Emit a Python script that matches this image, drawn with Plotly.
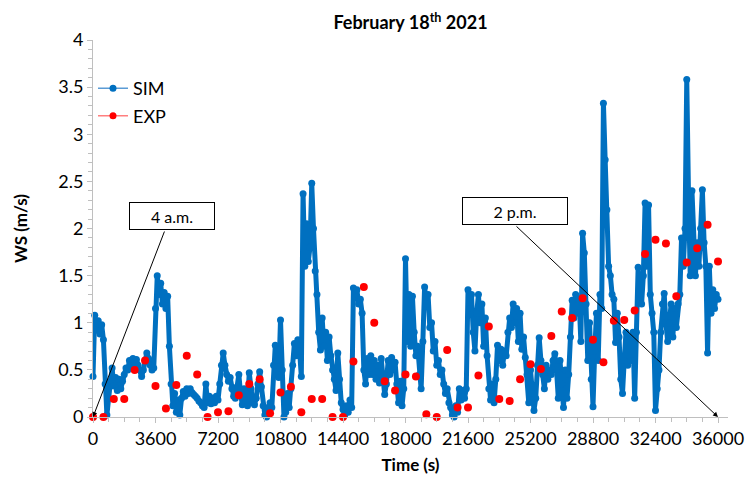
import plotly.graph_objects as go

# ---------------- data ----------------
sim_time = list(range(0, 36001, 100))
sim_ws = [
    0.43, 1.08, 0.92, 1.02, 0.88, 0.98, 0.82, 0.35, 0.02, 0.20,
    0.38, 0.52, 0.33, 0.42, 0.28, 0.40, 0.30, 0.38, 0.45, 0.52,
    0.50, 0.60, 0.55, 0.62, 0.57, 0.61, 0.55, 0.50, 0.43, 0.50,
    0.60, 0.68, 0.62, 0.55, 0.50, 0.52, 1.15, 1.50, 1.30, 1.42,
    1.20, 1.32, 1.15, 1.28, 0.75, 0.35, 0.12, 0.25, 0.05, 0.18,
    0.02, 0.20, 0.27, 0.22, 0.30, 0.25, 0.30, 0.26, 0.24, 0.22,
    0.20, 0.17, 0.15, 0.12, 0.10, 0.35, 0.15, 0.22, 0.14, 0.20,
    0.15, 0.22, 0.18, 0.35, 0.55, 0.68, 0.55, 0.45, 0.38, 0.42,
    0.30, 0.22, 0.20, 0.32, 0.45, 0.25, 0.13, 0.30, 0.18, 0.12,
    0.47, 0.30, 0.15, 0.13, 0.20, 0.35, 0.48, 0.32, 0.12, 0.02,
    0.00, 0.10, 0.15, 0.10, 0.55, 0.76, 0.60, 0.42, 1.03, 0.50,
    0.00, 0.05, 0.25, 0.10, 0.30, 0.55, 0.78, 0.65, 0.82, 0.70,
    0.43, 2.37, 1.60, 2.05, 1.65, 1.80, 2.48, 2.00, 1.55, 1.30,
    0.90, 0.71, 1.05, 0.75, 0.90, 0.60, 0.85, 0.65, 0.50, 0.40,
    0.28, 0.68, 0.40, 0.15, 0.08, 0.02, 0.12, 0.05, 0.18, 0.10,
    1.37, 1.30, 1.35, 1.20, 1.25, 1.10, 0.50, 0.35, 0.62, 0.45,
    0.65, 0.45, 0.60, 0.40, 0.55, 0.36, 0.62, 0.40, 0.24, 0.35,
    0.60, 0.45, 0.63, 0.50, 0.58, 0.35, 0.15, 0.38, 0.12, 0.30,
    1.68, 0.80, 1.30, 0.75, 1.28, 0.90, 0.65, 0.75, 0.45, 0.30,
    0.80, 1.38, 1.20, 1.30, 0.95, 1.00, 0.70, 0.80, 0.55, 0.60,
    0.45, 0.50, 0.35, 0.25, 0.30, 0.15, 0.10, 0.02, 0.00, 0.12,
    0.05, 0.30, 0.18, 0.28, 0.20, 0.30, 1.35, 1.15, 1.30, 0.90,
    0.70, 1.10, 1.30, 1.00, 1.20, 0.75, 1.05, 0.65, 0.30, 0.18,
    0.35, 0.15, 0.40, 0.76, 0.60, 0.72, 0.55, 0.70, 0.65, 0.90,
    1.05, 0.95, 1.20, 1.00, 1.15, 0.80, 1.10, 0.72, 0.85, 0.63,
    0.45, 0.15, 0.50, 0.25, 0.07, 0.20, 0.55, 0.84, 0.60, 0.45,
    0.30, 0.55, 0.40, 0.50, 0.45, 0.60, 0.67, 0.50, 0.20, 0.60,
    0.35, 0.10, 0.50, 0.20, 0.45, 0.85, 1.24, 1.05, 1.30, 1.10,
    1.25, 0.80, 1.95, 1.74, 1.20, 0.60, 1.00, 0.40, 0.11, 0.70,
    1.10, 0.60, 1.30, 1.15, 3.33, 2.73, 2.20, 1.60, 1.50, 1.30,
    1.25, 0.79, 1.10, 0.85, 0.40, 0.25, 0.60, 0.90, 0.55, 0.85,
    0.60, 0.90, 0.20, 0.90, 1.59, 1.30, 1.20, 1.50, 2.27, 1.60,
    2.25, 1.30, 1.10, 0.90, 0.07, 0.30, 0.50, 0.90, 1.20, 1.31,
    1.00, 0.80, 1.00, 1.20, 0.85, 1.15, 0.95, 1.20, 1.30, 1.90,
    1.60, 2.00, 3.58, 2.37, 1.50, 2.40, 1.85, 1.50, 1.85, 1.60,
    2.00, 2.41, 1.85, 1.60, 0.68, 1.60, 1.10, 1.35, 1.15, 1.30,
    1.25,
]

# EXP measured every 600 s
exp_time = list(range(0, 36001, 600))
exp_ws = [
    0.00, 0.00, 0.19, 0.19, 0.50, 0.60, 0.33, 0.09, 0.34, 0.65,
    0.45, 0.00, 0.05, 0.06, 0.23, 0.35, 0.40, 0.04, 0.26, 0.32,
    0.05, 0.19, 0.19, 0.00, 0.00, 0.59, 1.38, 1.00, 0.38, 0.28,
    0.45, 0.43, 0.03, 0.00, 0.71, 0.10, 0.10, 0.44, 0.96, 0.19,
    0.17, 0.40, 0.56, 0.51, 0.86, 1.12, 1.05, 1.26, 0.82, 0.58,
    1.02, 1.03, 1.13, 1.73, 1.88, 1.84, 1.28, 1.64, 1.79, 2.04,
    1.65,
]

x_ticks = [0, 3600, 7200, 10800, 14400, 18000, 21600, 25200, 28800, 32400, 36000]
y_ticks = [0, 0.5, 1, 1.5, 2, 2.5, 3, 3.5, 4]

# callout labels and the (time, WS) points they point at
callout_text = ["4 a.m.", "2 p.m."]
callout_time = [0, 36000]
callout_ws = [0, 0]

FONT = "Lato"
AXIS_GREY = "#BFBFBF"
SIM_BLUE = "#0070C0"

fig = go.Figure()
# dense simulated record: thick stroke stands in for the overlapping markers
fig.add_trace(go.Scatter(
    x=sim_time, y=sim_ws, mode="lines+markers", name="SIM",
    line=dict(color=SIM_BLUE, width=5),
    marker=dict(color=SIM_BLUE, size=7),
    cliponaxis=False, showlegend=False, legendgroup="sim",
))
# legend entries (thin line + dot as in the reference legend)
fig.add_trace(go.Scatter(
    x=[None], y=[None], mode="lines+markers", name="SIM",
    line=dict(color="#5B9BD5", width=1.5),
    marker=dict(color=SIM_BLUE, size=7), legendgroup="sim",
))
fig.add_trace(go.Scatter(
    x=exp_time, y=exp_ws, mode="markers", name="EXP",
    marker=dict(color="#FF0000", size=8),
    cliponaxis=False, showlegend=False, legendgroup="exp",
))
fig.add_trace(go.Scatter(
    x=[None], y=[None], mode="lines+markers", name="EXP",
    line=dict(color="#FF7F7F", width=1.5),
    marker=dict(color="#FF0000", size=7), legendgroup="exp",
))

fig.update_layout(
    width=746, height=484,
    margin=dict(l=93, r=18, t=40, b=67),
    paper_bgcolor="white", plot_bgcolor="white",
    font=dict(family=FONT, size=18, color="#000000"),
    title=dict(text="<b>February 18<sup>th</sup> 2021</b>", x=0.5, xref="paper",
               xanchor="center", y=1 - 23 / 484, yref="container", yanchor="middle",
               font=dict(family=FONT, size=18, color="#000000")),
    showlegend=True,
    legend=dict(x=0.0, y=0.92, xanchor="left", yanchor="top",
                tracegroupgap=1,
                bgcolor="rgba(0,0,0,0)", font=dict(family=FONT, size=18)),
)

fig.update_xaxes(
    range=[0, 36576], tickvals=x_ticks, ticktext=[str(v) for v in x_ticks],
    showline=True, linecolor=AXIS_GREY, linewidth=1,
    ticks="outside", ticklen=5, tickcolor=AXIS_GREY,
    tickfont=dict(family=FONT, size=18),
    minor=dict(dtick=900, tick0=0, ticks="outside", ticklen=4, tickcolor=AXIS_GREY),
    showgrid=False, zeroline=False, automargin=False,
    title=dict(text="<b>Time (s)</b>", font=dict(family=FONT, size=17), standoff=11),
)
fig.update_yaxes(
    range=[0, 4], tickvals=y_ticks, ticktext=[("%g" % v) for v in y_ticks],
    showline=True, linecolor=AXIS_GREY, linewidth=1,
    ticks="outside", ticklen=5, tickcolor=AXIS_GREY,
    tickfont=dict(family=FONT, size=18),
    minor=dict(dtick=0.1, tick0=0, ticks="outside", ticklen=4, tickcolor=AXIS_GREY),
    showgrid=False, zeroline=False, automargin=False,
    title=dict(text="<b>WS (m/s)</b>", font=dict(family=FONT, size=17), standoff=26),
)

# callout boxes (paper position) and their leader arrows (pixel offsets from the target point)
box_pos = [(0.1244, 0.5332, 80), (0.6646, 0.5464, 100)]
arrow_tail = [(72, -187), (-203, -192)]
for txt, t, v, (bx, by, bw), (ax, ay) in zip(callout_text, callout_time, callout_ws, box_pos, arrow_tail):
    fig.add_annotation(
        x=t, y=v, xref="x", yref="y", text="",
        showarrow=True, arrowhead=2, arrowsize=1, arrowwidth=1, arrowcolor="black",
        ax=ax, ay=ay, axref="pixel", ayref="pixel",
    )
    fig.add_annotation(
        x=bx, y=by, xref="paper", yref="paper", text=txt, showarrow=False,
        xanchor="center", yanchor="middle",
        font=dict(family=FONT, size=16, color="black"),
        bordercolor="black", borderwidth=1, bgcolor="white", borderpad=2,
        width=bw, height=22,
    )

fig.write_html("out.html")
